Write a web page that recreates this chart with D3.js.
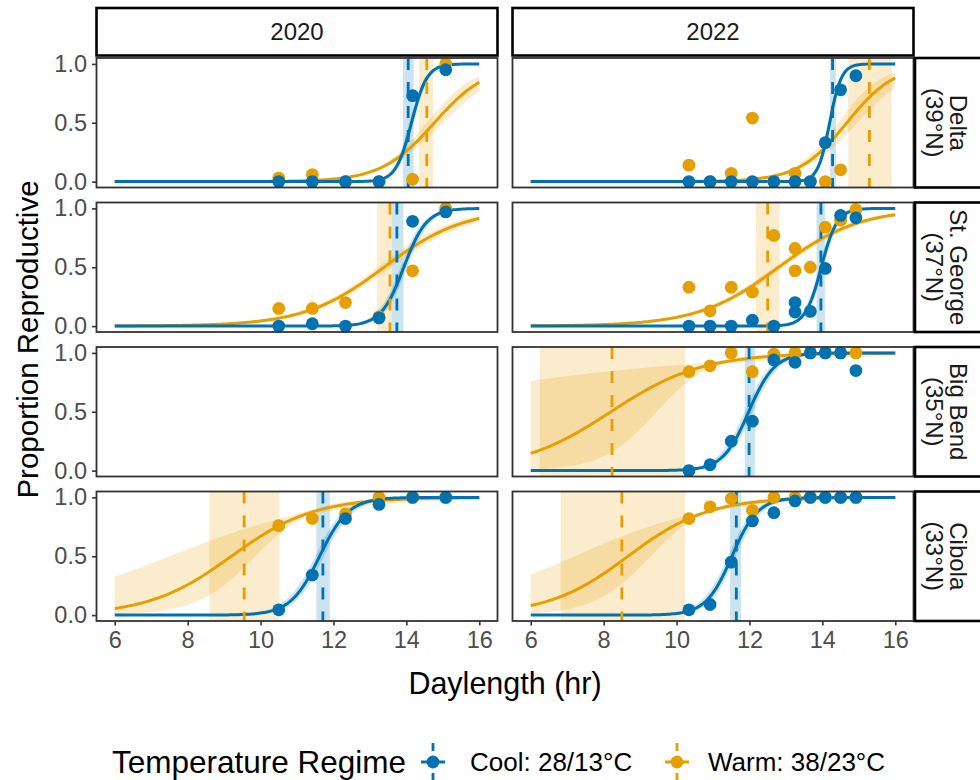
<!DOCTYPE html>
<html>
<head>
<meta charset="utf-8">
<script src="https://cdn.jsdelivr.net/npm/d3@7"></script>
<style>
  html, body { margin: 0; padding: 0; background: #fff; }
  svg { display: block; font-family: "Liberation Sans", Arial, Helvetica, sans-serif; }
</style>
</head>
<body>
<svg id="chart" width="980" height="780"></svg>
<script>
// ---- facets and labels ----
const years = ["2020", "2022"];
const siteNames = ["Delta", "St. George", "Big Bend", "Cibola"];
const siteLatitudes = ["(39°N)", "(37°N)", "(35°N)", "(33°N)"];
const regimeLabels = ["Cool: 28/13°C", "Warm: 38/23°C"];
const xTicks = [6, 8, 10, 12, 14, 16];
const yTicks = [0, 0.5, 1];

// ---- daylength treatments (hr) ----
const daylength2020 = [10.5, 11.42, 12.33, 13.25, 14.17, 15.08];
const daylength2022 = [10.34, 10.92, 11.5, 12.08, 12.67, 13.25, 13.67, 14.08, 14.5, 14.92];
const daylengthStGeorge2022 = [10.34, 10.92, 11.5, 12.08, 12.67, 13.25, 13.25, 13.67, 14.08, 14.5, 14.92];

// ---- observed proportion reproductive ----
const coolDelta2020 = [0, 0, 0, 0, 0.73, 0.95];
const warmDelta2020 = [0.03, 0.06, 0, 0, 0.02, 1.0];
const coolDelta2022 = [0, 0, 0, 0, 0, 0, 0, 0.33, 0.78, 0.9];
const warmDelta2022 = [0.14, 0, 0.07, 0.54, 0, 0.07, 0, 0, 0.1, null];
const coolStGeorge2020 = [0, 0.02, 0, 0.07, 0.89, 0.97];
const warmStGeorge2020 = [0.15, 0.15, 0.2, 0.08, 0.47, 1.0];
const coolStGeorge2022 = [0, 0, 0, 0.05, 0, 0.2, 0.12, 0.125, 0.49, 0.94, 0.92];
const warmStGeorge2022 = [0.33, 0.13, 0.33, 0.29, 0.77, 0.66, 0.47, 0.5, 0.84, 0.9, 0.99];
const coolBigBend2022 = [0, 0.05, 0.25, 0.42, 0.94, 0.92, 1, 1, 1, 0.85];
const warmBigBend2022 = [0.84, 0.89, 1.0, 0.84, 0.99, 1.0, 1, 1, 1, 1.0];
const coolCibola2020 = [0.045, 0.34, 0.82, 0.94, 1, 1];
const warmCibola2020 = [0.76, 0.82, 0.86, 1.0, 1, 1];
const coolCibola2022 = [0.045, 0.09, 0.45, 0.8, 0.87, 0.97, 1, 1, 1, 1];
const warmCibola2022 = [0.82, 0.92, 0.99, 0.89, 1, 1, 1, 1, 1, 1];

// ---- fitted logistic models, panel order:
// Delta 2020, Delta 2022, St. George 2020, St. George 2022,
// Big Bend 2020 (no data), Big Bend 2022, Cibola 2020, Cibola 2022
const coolMid   = [14.14, 14.2, 13.93, 13.97, null, 11.98, 11.62, 11.52];
const coolSlope = [4.7, 6.2, 3.2, 4.6, null, 2.8, 2.5, 2.8];
const warmMid   = [14.77, 14.67, 13.39, 12.8, null, 8.2, 9.2, 8.67];
const warmSlope = [1.37, 1.5, 0.91, 0.9, null, 0.8, 0.88, 0.91];
// confidence band half-width on the logit scale: sqrt(base^2 + (growth*(x - centre))^2)
const coolBandBase   = [0.3, 0.3, 0.3, 0.3, null, 0.3, 0.3, 0.3];
const coolBandGrowth = [0.3, 0.3, 0.3, 0.3, null, 0.3, 0.3, 0.3];
const warmBandBase   = [0.15, 0.2, 0.15, 0.12, null, 0.25, 0.2, 0.1];
const warmBandGrowth = [0.15, 0.18, 0.08, 0.06, null, 0.56, 0.4, 0.37];
const warmBandCentre = [13.0, 12.8, 12.5, 12.5, null, 11.2, 11.2, 10.8];

// ---- critical photoperiod estimates with intervals ----
const coolCritical   = [14.05, 14.28, 13.74, 13.96, null, 11.99, 11.71, 11.64];
const coolCriticalLo = [13.91, 14.21, 13.6, 13.84, null, 11.87, 11.53, 11.47];
const coolCriticalHi = [14.2, 14.37, 13.92, 14.07, null, 12.15, 11.9, 11.77];
const warmCritical   = [14.56, 15.29, 13.55, 12.5, null, 8.23, 9.55, 8.5];
const warmCriticalLo = [14.35, 14.71, 13.2, 12.18, null, 6.25, 8.6, 6.82];
const warmCriticalHi = [14.73, 15.9, 13.6, 12.82, null, 10.23, 10.52, 10.23];

// ---- styling ----
const COOL = "#0072B2", WARM = "#E69F00";
const FONT = "Liberation Sans, Arial, Helvetica, sans-serif";
const svg = d3.select("#chart");

const colX = [96.5, 512.5], panelW = 401;
const rowY = [58, 202.5, 347, 491.5], panelH = 129.5;

// observations per panel, built from the arrays above
const obs = [
  [daylength2020, coolDelta2020, warmDelta2020],
  [daylength2022, coolDelta2022, warmDelta2022],
  [daylength2020, coolStGeorge2020, warmStGeorge2020],
  [daylengthStGeorge2022, coolStGeorge2022, warmStGeorge2022],
  null,
  [daylength2022, coolBigBend2022, warmBigBend2022],
  [daylength2020, coolCibola2020, warmCibola2020],
  [daylength2022, coolCibola2022, warmCibola2022]
];

const logistic = v => 1 / (1 + Math.exp(-v));
const gridX = d3.range(6, 16.0001, 0.05);

function modelCurve(mid, slope, base, growth, centre) {
  return gridX.map(x => {
    const eta = slope * (x - mid);
    const hw = Math.sqrt(base * base + Math.pow(growth * (x - centre), 2));
    return { x, fit: logistic(eta), lo: logistic(eta - hw), hi: logistic(eta + hw) };
  });
}

const defs = svg.append("defs");

siteNames.forEach((site, r) => {
  years.forEach((yr, c) => {
    const i = r * 2 + c;
    const x0 = colX[c], y0 = rowY[r];
    const x = d3.scaleLinear().domain([5.5, 16.5]).range([x0, x0 + panelW]);
    const y = d3.scaleLinear().domain([-0.05, 1.05]).range([y0 + panelH, y0]);

    const clipId = "clip" + i;
    defs.append("clipPath").attr("id", clipId)
      .append("rect").attr("x", x0).attr("y", y0).attr("width", panelW).attr("height", panelH);

    const g = svg.append("g");
    const inner = g.append("g").attr("clip-path", `url(#${clipId})`);

    if (obs[i]) {
      const groups = [
        { col: WARM, mid: warmMid[i], slope: warmSlope[i], base: warmBandBase[i], growth: warmBandGrowth[i], centre: warmBandCentre[i],
          cp: warmCritical[i], lo: warmCriticalLo[i], hi: warmCriticalHi[i], ys: obs[i][2] },
        { col: COOL, mid: coolMid[i], slope: coolSlope[i], base: coolBandBase[i], growth: coolBandGrowth[i], centre: coolMid[i],
          cp: coolCritical[i], lo: coolCriticalLo[i], hi: coolCriticalHi[i], ys: obs[i][1] }
      ];
      const dls = obs[i][0];

      // critical photoperiod intervals
      groups.forEach(gr => {
        inner.append("rect")
          .attr("x", x(gr.lo)).attr("y", y0)
          .attr("width", x(gr.hi) - x(gr.lo)).attr("height", panelH)
          .attr("fill", gr.col).attr("fill-opacity", 0.2);
      });
      // confidence ribbons
      groups.forEach(gr => {
        const pts = modelCurve(gr.mid, gr.slope, gr.base, gr.growth, gr.centre);
        inner.append("path").datum(pts)
          .attr("d", d3.area().x(d => x(d.x)).y0(d => y(d.lo)).y1(d => y(d.hi)))
          .attr("fill", gr.col).attr("fill-opacity", 0.2);
      });
      // fitted curves
      groups.forEach(gr => {
        const pts = modelCurve(gr.mid, gr.slope, gr.base, gr.growth, gr.centre);
        inner.append("path").datum(pts)
          .attr("d", d3.line().x(d => x(d.x)).y(d => y(d.fit)))
          .attr("fill", "none").attr("stroke", gr.col).attr("stroke-width", 3);
      });
      // critical photoperiod lines
      groups.forEach(gr => {
        inner.append("line")
          .attr("x1", x(gr.cp)).attr("x2", x(gr.cp))
          .attr("y1", y0).attr("y2", y0 + panelH)
          .attr("stroke", gr.col).attr("stroke-width", 2.8)
          .attr("stroke-dasharray", "12,12");
      });
      // observations
      groups.forEach(gr => {
        const pts = dls.map((d, k) => ({ d, v: gr.ys[k] })).filter(p => p.v !== null);
        g.selectAll(null).data(pts).enter().append("circle")
          .attr("cx", p => x(p.d)).attr("cy", p => y(p.v)).attr("r", 6.4)
          .attr("fill", gr.col);
      });
    }

    // panel frame
    g.append("rect").attr("x", x0).attr("y", y0).attr("width", panelW).attr("height", panelH)
      .attr("fill", "none").attr("stroke", "#333333").attr("stroke-width", 1.8);

    // y axis on the left column
    if (c === 0) {
      const ax = g.append("g").attr("transform", `translate(${x0},0)`)
        .call(d3.axisLeft(y).tickValues(yTicks).tickFormat(d3.format(".1f")).tickSize(4.5).tickPadding(5));
      ax.select(".domain").remove();
      ax.selectAll(".tick line").attr("stroke", "#333333").attr("stroke-width", 1.6);
      ax.selectAll(".tick text").attr("fill", "#4D4D4D").style("font-size", "23.5px")
        .style("font-family", FONT);
    }
    // x axis on the bottom row
    if (r === siteNames.length - 1) {
      const ax = g.append("g").attr("transform", `translate(0,${y0 + panelH})`)
        .call(d3.axisBottom(x).tickValues(xTicks).tickSize(4.5).tickPadding(6));
      ax.select(".domain").remove();
      ax.selectAll(".tick line").attr("stroke", "#333333").attr("stroke-width", 1.6);
      ax.selectAll(".tick text").attr("fill", "#4D4D4D").style("font-size", "23.5px")
        .style("font-family", FONT);
    }
  });
});

// top strips (year)
years.forEach((yr, c) => {
  svg.append("rect").attr("x", colX[c]).attr("y", 8).attr("width", panelW).attr("height", 47.5)
    .attr("fill", "#fff").attr("stroke", "#000").attr("stroke-width", 2.6);
  svg.append("text").attr("x", colX[c] + panelW / 2).attr("y", 32).attr("dy", "0.35em")
    .attr("text-anchor", "middle").attr("fill", "#1A1A1A").style("font-size", "24px").text(yr);
});

// right strips (site)
siteNames.forEach((site, r) => {
  const y0 = rowY[r];
  svg.append("rect").attr("x", 915).attr("y", y0).attr("width", 100).attr("height", panelH)
    .attr("fill", "#fff").attr("stroke", "#000").attr("stroke-width", 2.6);
  const t = svg.append("text")
    .attr("transform", `translate(946,${y0 + panelH / 2}) rotate(90)`)
    .attr("text-anchor", "middle").attr("fill", "#1A1A1A").style("font-size", "24px");
  t.append("tspan").attr("x", 0).attr("y", -12).attr("dy", "0.35em").text(site);
  t.append("tspan").attr("x", 0).attr("y", 12).attr("dy", "0.35em").text(siteLatitudes[r]);
});

// axis titles
svg.append("text").attr("transform", `translate(28,${(rowY[0] + rowY[3] + panelH) / 2}) rotate(-90)`)
  .attr("text-anchor", "middle").attr("dy", "0.35em").style("font-size", "29.5px").attr("fill", "#000")
  .text("Proportion Reproductive");
svg.append("text").attr("x", (colX[0] + colX[1] + panelW) / 2).attr("y", 683).attr("dy", "0.35em")
  .attr("text-anchor", "middle").style("font-size", "30.5px").attr("fill", "#000")
  .text("Daylength (hr)");

// legend
const leg = svg.append("g");
leg.append("text").attr("x", 112).attr("y", 762).attr("dy", "0.35em").style("font-size", "31.5px")
  .attr("fill", "#000").text("Temperature Regime");
const keys = [
  { col: COOL, cx: 433, label: regimeLabels[0], tx: 470 },
  { col: WARM, cx: 677, label: regimeLabels[1], tx: 708 }
];
keys.forEach(k => {
  leg.append("line").attr("x1", k.cx).attr("x2", k.cx).attr("y1", 743).attr("y2", 782)
    .attr("stroke", k.col).attr("stroke-width", 2.8).attr("stroke-dasharray", "8,7");
  leg.append("line").attr("x1", k.cx - 12).attr("x2", k.cx + 12).attr("y1", 762).attr("y2", 762)
    .attr("stroke", k.col).attr("stroke-width", 3);
  leg.append("circle").attr("cx", k.cx).attr("cy", 762).attr("r", 6.4).attr("fill", k.col);
  leg.append("text").attr("x", k.tx).attr("y", 762).attr("dy", "0.35em").style("font-size", "26px")
    .attr("fill", "#000").text(k.label);
});
</script>
</body>
</html>
